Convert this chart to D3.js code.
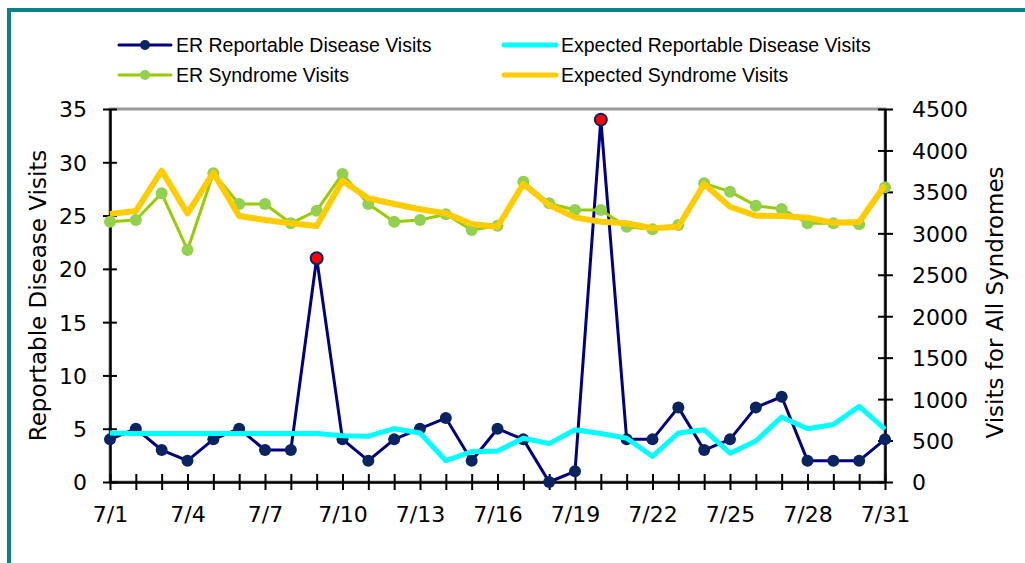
<!DOCTYPE html>
<html>
<head>
<meta charset="utf-8">
<script src="https://cdn.jsdelivr.net/npm/d3@7"></script>
<style>
  body { margin: 0; background: #fff; }
  svg text { fill: #000; }
</style>
</head>
<body>
<div id="chart-container"></div>
<script>
// day labels 7/1 .. 7/31
const days = d3.range(1, 32).map((d) => `7/${d}`);
const tickLabels = ["7/1", "7/4", "7/7", "7/10", "7/13", "7/16", "7/19", "7/22", "7/25", "7/28", "7/31"];

// left axis series
const erReportable = [4, 5, 3, 2, 4, 5, 3, 3, 21, 4, 2, 4, 5, 6, 2, 5, 4, 0, 1, 34, 4, 4, 7, 3, 4, 7, 8, 2, 2, 2, 4];
const expectedReportable = [4.6, 4.55, 4.55, 4.55, 4.55, 4.55, 4.55, 4.55, 4.55, 4.35, 4.3, 5.0, 4.6, 2.0, 2.85, 2.9, 4.1, 3.6, 4.9, 4.55, 4.1, 2.4, 4.6, 4.9, 2.7, 3.85, 6.1, 5.0, 5.4, 7.1, 4.95];
const alertDays = ["7/9", "7/20"];

// right axis series
const erSyndrome = [3140, 3161, 3483, 2799, 3724, 3354, 3354, 3121, 3273, 3716, 3354, 3140, 3161, 3230, 3040, 3092, 3623, 3362, 3281, 3281, 3080, 3049, 3100, 3603, 3503, 3334, 3293, 3121, 3121, 3109, 3555];
const expectedSyndrome = [3233, 3269, 3756, 3241, 3732, 3209, 3161, 3121, 3088, 3635, 3423, 3354, 3290, 3241, 3113, 3080, 3595, 3342, 3193, 3140, 3121, 3061, 3080, 3595, 3321, 3213, 3209, 3189, 3128, 3137, 3583];

const leftTicks = [0, 5, 10, 15, 20, 25, 30, 35];
const rightTicks = [0, 500, 1000, 1500, 2000, 2500, 3000, 3500, 4000, 4500];

const W = 1025, H = 563;
const margin = { top: 109, right: 140, bottom: 81, left: 110 };

const svg = d3.select("#chart-container").append("svg")
  .attr("width", W).attr("height", H);

// teal frame
svg.append("rect").attr("x", 7).attr("y", 8).attr("width", W).attr("height", 4).attr("fill", "#0b8186");
svg.append("rect").attr("x", 7).attr("y", 8).attr("width", 4).attr("height", H).attr("fill", "#0b8186");

const x = d3.scalePoint().domain(days).range([margin.left, W - margin.right]);
const yL = d3.scaleLinear().domain([0, 35]).range([H - margin.bottom, margin.top]);
const yR = d3.scaleLinear().domain([0, 4500]).range([H - margin.bottom, margin.top]);

const tickFont = "'DejaVu Sans', sans-serif";

// plot area border (gray)
svg.append("rect")
  .attr("x", margin.left).attr("y", margin.top)
  .attr("width", W - margin.right - margin.left)
  .attr("height", H - margin.bottom - margin.top)
  .attr("fill", "none").attr("stroke", "#9a9a9a").attr("stroke-width", 3);

// axes
const leftAxis = svg.append("g")
  .attr("transform", `translate(${margin.left},0)`)
  .call(d3.axisLeft(yL).tickValues(leftTicks).tickSize(7).tickSizeOuter(0).tickFormat(d3.format("d")));
leftAxis.selectAll(".tick line").attr("x2", -7).attr("x1", 7);

const rightAxis = svg.append("g")
  .attr("transform", `translate(${W - margin.right},0)`)
  .call(d3.axisRight(yR).tickValues(rightTicks).tickSize(7).tickSizeOuter(0).tickFormat(d3.format("d")));
rightAxis.selectAll(".tick line").attr("x1", -7).attr("x2", 8);

const bottomAxis = svg.append("g")
  .attr("transform", `translate(0,${H - margin.bottom})`)
  .call(d3.axisBottom(x).tickSize(8).tickSizeOuter(0)
    .tickFormat((d) => (tickLabels.includes(d) ? d : "")));
bottomAxis.selectAll(".tick line").attr("y1", -8).attr("y2", 8);

[leftAxis, rightAxis, bottomAxis].forEach((g) => {
  g.select(".domain").attr("stroke", "#000").attr("stroke-width", 2.5);
  g.selectAll(".tick line").attr("stroke", "#000").attr("stroke-width", 2);
  g.selectAll(".tick text").style("font-family", tickFont).style("font-size", "22px").attr("fill", "#000");
});
leftAxis.selectAll(".tick text").attr("x", -23).attr("dy", "0.36em");
rightAxis.selectAll(".tick text").attr("x", 27).attr("dy", "0.36em");
bottomAxis.selectAll(".tick text").attr("y", 24);

// axis titles
svg.append("text")
  .attr("transform", `translate(46,${(margin.top + H - margin.bottom) / 2 + 0}) rotate(-90)`)
  .attr("text-anchor", "middle")
  .style("font-family", tickFont).style("font-size", "23px")
  .text("Reportable Disease Visits");
svg.append("text")
  .attr("transform", `translate(1003,${(margin.top + H - margin.bottom) / 2 + 7}) rotate(-90)`)
  .attr("text-anchor", "middle")
  .style("font-family", tickFont).style("font-size", "23px")
  .text("Visits for All Syndromes");

const lineL = d3.line().x((d, i) => x(days[i])).y((d) => yL(d));
const lineR = d3.line().x((d, i) => x(days[i])).y((d) => yR(d));

// reportable disease visits
svg.append("path").datum(erReportable)
  .attr("fill", "none").attr("stroke", "#000080").attr("stroke-width", 3)
  .attr("stroke-linejoin", "round").attr("d", lineL);
svg.append("g").selectAll("circle").data(erReportable).join("circle")
  .attr("cx", (d, i) => x(days[i])).attr("cy", (d) => yL(d)).attr("r", 6)
  .attr("fill", (d, i) => (alertDays.includes(days[i]) ? "#ff0000" : "#0a2462"))
  .attr("stroke", "#0a2462").attr("stroke-width", (d, i) => (alertDays.includes(days[i]) ? 2 : 0));

svg.append("path").datum(expectedReportable)
  .attr("fill", "none").attr("stroke", "#00ffff").attr("stroke-width", 5)
  .attr("stroke-linejoin", "round").attr("d", lineL);

// syndrome visits
svg.append("path").datum(erSyndrome)
  .attr("fill", "none").attr("stroke", "#99cc00").attr("stroke-width", 3)
  .attr("stroke-linejoin", "round").attr("d", lineR);
svg.append("g").selectAll("circle").data(erSyndrome).join("circle")
  .attr("cx", (d, i) => x(days[i])).attr("cy", (d) => yR(d)).attr("r", 6)
  .attr("fill", "#92d050");

svg.append("path").datum(expectedSyndrome)
  .attr("fill", "none").attr("stroke", "#ffcc00").attr("stroke-width", 6)
  .attr("stroke-linejoin", "round").attr("d", lineR);

// legend
const legend = [
  { name: "ER Reportable Disease Visits", color: "#000080", dot: "#0a2462", w: 3, col: 0, row: 0 },
  { name: "Expected Reportable Disease Visits", color: "#00ffff", dot: null, w: 5, col: 1, row: 0 },
  { name: "ER Syndrome Visits", color: "#99cc00", dot: "#92d050", w: 3, col: 0, row: 1 },
  { name: "Expected Syndrome Visits", color: "#ffcc00", dot: null, w: 5, col: 1, row: 1 }
];
const lg = svg.append("g").selectAll("g").data(legend).join("g")
  .attr("transform", (d) => `translate(${d.col ? 504 : 119},${d.row ? 75 : 45})`);
lg.append("line").attr("x1", 0).attr("x2", 52)
  .attr("stroke", (d) => d.color).attr("stroke-width", (d) => d.w).attr("stroke-linecap", "round");
lg.filter((d) => d.dot).append("circle").attr("cx", 26).attr("r", 5).attr("fill", (d) => d.dot);
lg.append("text").attr("x", 57).attr("dy", "0.35em")
  .style("font-family", "'Liberation Sans', Arial, sans-serif").style("font-size", "19.5px")
  .text((d) => d.name);
</script>
</body>
</html>
